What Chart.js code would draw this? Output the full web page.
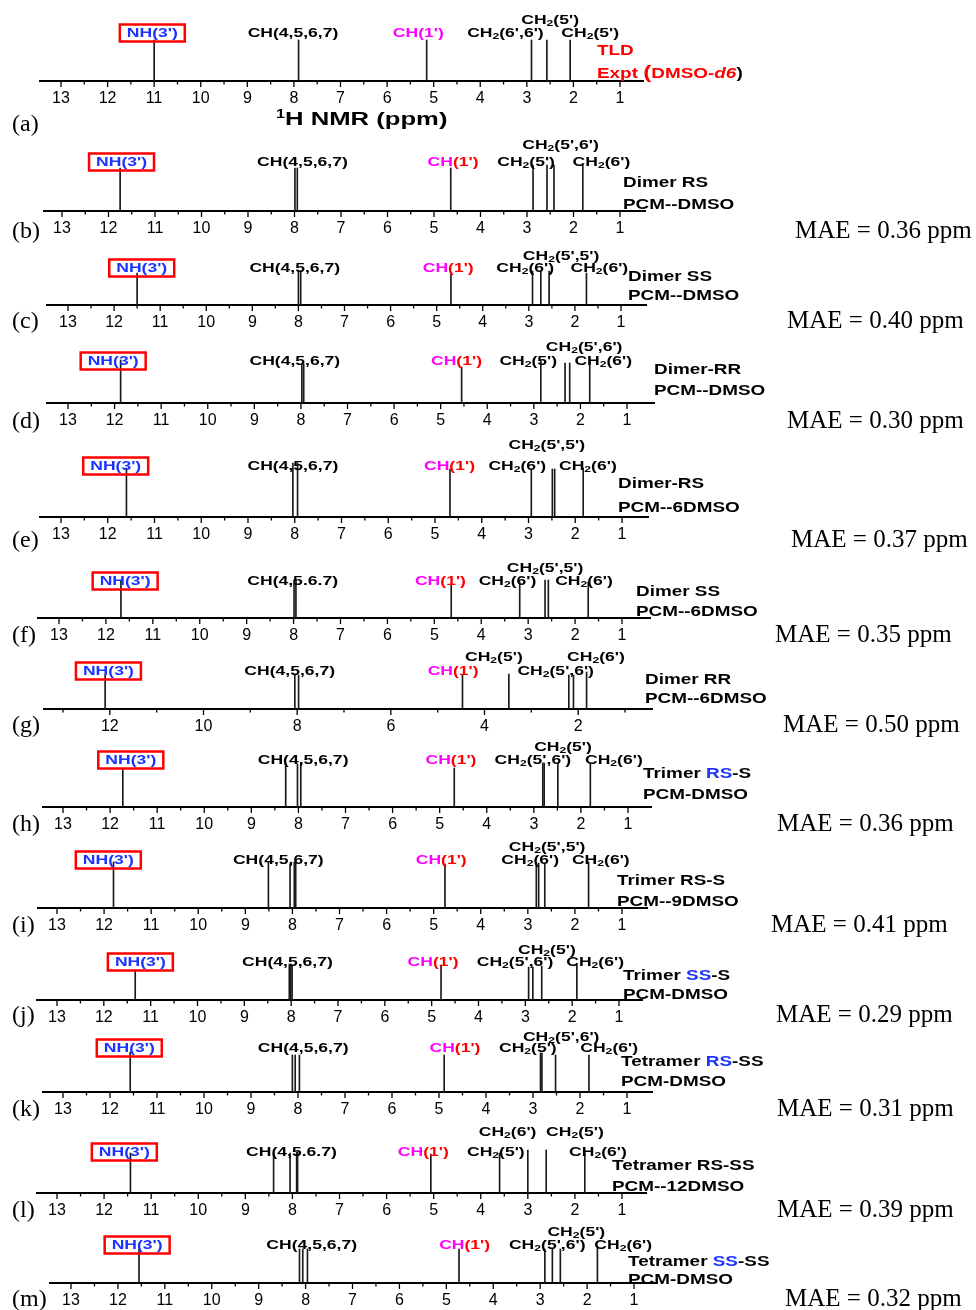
<!DOCTYPE html>
<html lang="en">
<head>
<meta charset="UTF-8">
<title>1H NMR stick spectra</title>
<script src="https://cdn.jsdelivr.net/npm/chart.js"></script>
<style>
  body { margin: 0; background: #fff; }
  #wrap { position: relative; width: 976px; height: 1310px; overflow: hidden; }
  #wrap canvas { position: absolute; left: 0; }
  .txt { position: absolute; white-space: nowrap; z-index: 2; }
  .tag { font: bold 14px 'Liberation Sans', Arial, sans-serif; line-height: 18px; transform: scaleX(1.35); transform-origin: 0 50%; }
  .mae { font: 25px 'Liberation Serif', 'Times New Roman', serif; line-height: 28px; }
  .letter { font: 24px 'Liberation Serif', 'Times New Roman', serif; line-height: 28px; }
  .blue { color: #1a33ff; }
  .red { color: #ff0000; }
</style>
</head>
<body>
<div id="wrap"></div>
<script>
// tick values (ppm)
const ppmLabels = [13, 12, 11, 10, 9, 8, 7, 6, 5, 4, 3, 2, 1];
const ppmLabelsEven = [12, 10, 8, 6, 4, 2];

// chemical shifts (ppm) and relative stick heights for each spectrum
const shiftsA = [11.0, 7.9, 5.15, 2.9, 2.57, 2.07];
const heightsA = [0.82, 0.82, 0.82, 0.82, 0.82, 0.82];
const shiftsB = [11.75, 7.99, 7.94, 4.64, 2.87, 2.57, 2.42, 1.8];
const heightsB = [0.86, 0.86, 0.86, 0.86, 0.92, 0.92, 0.92, 0.92];
const shiftsC = [11.5, 8.0, 7.95, 4.69, 2.92, 2.74, 2.56, 1.75];
const heightsC = [0.64, 0.68, 0.68, 0.64, 0.68, 0.68, 0.68, 0.64];
const shiftsD = [11.87, 7.98, 7.94, 4.55, 2.85, 2.33, 2.23, 1.8];
const heightsD = [0.86, 0.78, 0.78, 0.72, 0.86, 0.8, 0.8, 0.86];
const shiftsE = [11.6, 8.04, 7.94, 4.68, 2.94, 2.49, 2.44, 1.83];
const heightsE = [0.98, 1.08, 1.08, 0.96, 0.96, 0.96, 0.96, 0.98];
const shiftsF = [11.68, 7.99, 7.95, 4.64, 3.18, 2.64, 2.57, 1.72];
const heightsF = [0.76, 0.76, 0.76, 0.68, 0.72, 0.76, 0.76, 0.72];
const shiftsG = [12.1, 8.05, 7.97, 4.47, 3.48, 2.2, 2.1, 1.82];
const heightsG = [0.68, 0.68, 0.68, 0.68, 0.7, 0.68, 0.68, 0.74];
const shiftsH = [11.73, 8.27, 8.02, 7.95, 4.69, 2.81, 2.78, 2.49, 1.8];
const heightsH = [0.76, 0.86, 0.86, 0.86, 0.78, 0.88, 0.88, 0.88, 0.86];
const shiftsI = [11.8, 8.51, 8.05, 7.96, 7.93, 4.76, 2.82, 2.77, 2.64, 1.71];
const heightsI = [0.92, 0.92, 0.88, 0.92, 0.92, 0.88, 0.9, 0.9, 0.9, 0.92];
const shiftsJ = [11.33, 8.04, 8.01, 7.98, 4.8, 2.93, 2.84, 2.65, 1.9];
const heightsJ = [0.6, 0.7, 0.7, 0.7, 0.7, 0.66, 0.66, 0.68, 0.7];
const shiftsK = [11.57, 8.12, 8.06, 7.97, 4.89, 2.84, 2.81, 2.52, 1.81];
const heightsK = [0.8, 0.74, 0.74, 0.74, 0.74, 0.78, 0.78, 0.74, 0.74];
const shiftsL = [11.44, 8.4, 8.05, 7.91, 7.89, 5.06, 3.6, 3.0, 2.61, 1.79];
const heightsL = [0.8, 0.78, 0.8, 0.82, 0.82, 0.78, 0.8, 0.86, 0.86, 0.8];
const shiftsM = [11.55, 8.13, 8.06, 7.96, 4.73, 2.9, 2.74, 2.57, 1.78];
const heightsM = [0.68, 0.68, 0.68, 0.68, 0.68, 0.68, 0.68, 0.68, 0.7];

// MAE values (ppm)
const maeValues = ['', '0.36', '0.40', '0.30', '0.37', '0.35', '0.50', '0.36', '0.41', '0.29', '0.31', '0.39', '0.32'];

const BLUE = '#1a33ff', MAG = '#ff00ff', RED = '#ff0000', BLK = '#000';
const LABFONT = "bold 13px 'Liberation Sans', Arial, sans-serif";
const SUBFONT = "bold 9px 'Liberation Sans', Arial, sans-serif";
const SX = 1.35;

// label helpers
const NH = ppm => ({ ppm, row: 0, box: true, parts: [["NH(3')", BLUE]] });
const CH4 = (ppm, t) => ({ ppm, row: 0, parts: [[t || 'CH(4,5,6,7)', BLK]] });
const CH1 = (ppm, plain) => ({ ppm, row: 0, parts: plain ? [["CH(1')", MAG]] : [['CH', MAG], ["(1')", RED]] });
const CH2 = (ppm, row, tail) => ({ ppm, row, parts: [['CH', BLK], ['2', BLK, true], [tail, BLK]] });

const halfSteps = [];
for (let v = 1; v <= 13; v += 0.5) halfSteps.push(v);
const intSteps = ppmLabels.slice();

const panels = [
  { id: 'a', shifts: shiftsA, heights: heightsA, axisY: 81, left: 40, right: 643, px13: 61, px1: 620, rows: [48, 61], letterY: 123,
    labels: [NH(11.04), CH4(8.02), CH1(5.33, true), CH2(3.46, 0, "(6',6')"), CH2(2.5, 1, "(5')"), CH2(1.64, 0, "(5')")] },
  { id: 'b', shifts: shiftsB, heights: heightsB, axisY: 211, left: 44, right: 645, px13: 62, px1: 620, rows: [49, 66], letterY: 230,
    maeX: 795, tagX: 623, tagY: [182, 204], tag: ['Dimer RS', 'PCM--DMSO'],
    labels: [NH(11.72), CH4(7.83), CH1(4.59), CH2(2.28, 1, "(5',6')"), CH2(3.02, 0, "(5')"), CH2(1.4, 0, "(6')")] },
  { id: 'c', shifts: shiftsC, heights: heightsC, axisY: 305, left: 47, right: 646, px13: 68, px1: 621, rows: [37, 49], letterY: 320,
    maeX: 787, tagX: 628, tagY: [276, 295], tag: ['Dimer SS', 'PCM--DMSO'],
    labels: [NH(11.4), CH4(8.08), CH1(4.75), CH2(2.3, 1, "(5',5')"), CH2(3.08, 0, "(6')"), CH2(1.47, 0, "(6')")] },
  { id: 'd', shifts: shiftsD, heights: heightsD, axisY: 403, left: 47, right: 654, px13: 68, px1: 627, rows: [42, 56], letterY: 420,
    maeX: 787, tagX: 654, tagY: [369, 390], tag: ['Dimer-RR', 'PCM--DMSO'],
    labels: [NH(12.03), CH4(8.13), CH1(4.66), CH2(1.92, 1, "(5',6')"), CH2(3.12, 0, "(5')"), CH2(1.51, 0, "(6')")] },
  { id: 'e', shifts: shiftsE, heights: heightsE, axisY: 517, left: 40, right: 648, px13: 61, px1: 622, rows: [51, 72], letterY: 539,
    maeX: 791, tagX: 618, tagY: [483, 507], tag: ['Dimer-RS', 'PCM--6DMSO'],
    labels: [NH(11.83), CH4(8.04), CH1(4.69), CH2(2.61, 1, "(5',5')"), CH2(3.24, 0, "(6')"), CH2(1.73, 0, "(6')")] },
  { id: 'f', shifts: shiftsF, heights: heightsF, axisY: 618, left: 38, right: 650, px13: 59, px1: 622, rows: [37, 50], letterY: 634,
    maeX: 775, tagX: 636, tagY: [591, 611], tag: ['Dimer SS', 'PCM--6DMSO'],
    labels: [NH(11.59), CH4(8.02, 'CH(4,5.6.7)'), CH1(4.87), CH2(2.64, 1, "(5',5')"), CH2(3.44, 0, "(6')"), CH2(1.81, 0, "(6')")] },
  { id: 'g', shifts: shiftsG, heights: heightsG, axisY: 709, left: 44, right: 652, px13: 63, px1: 625, rows: [38, 52], letterY: 724,
    even: true, maeX: 783, tagX: 645, tagY: [679, 698], tag: ['Dimer RR', 'PCM--6DMSO'],
    labels: [NH(12.03), CH4(8.16), CH1(4.67), CH2(3.8, 1, "(5')"), CH2(1.62, 1, "(6')"), CH2(2.48, 0, "(5',6')")] },
  { id: 'h', shifts: shiftsH, heights: heightsH, axisY: 807, left: 43, right: 651, px13: 63, px1: 628, rows: [47, 60], letterY: 823,
    maeX: 777, tagX: 643, tagY: [773, 794], tag: ['Trimer <span class="blue">RS</span>-S', 'PCM-DMSO'],
    labels: [NH(11.56), CH4(7.9), CH1(4.76), CH2(2.38, 1, "(5')"), CH2(3.02, 0, "(5',6')"), CH2(1.3, 0, "(6')")] },
  { id: 'i', shifts: shiftsI, heights: heightsI, axisY: 908, left: 38, right: 647, px13: 57, px1: 622, rows: [48, 61], letterY: 924,
    maeX: 771, tagX: 617, tagY: [880, 901], tag: ['Trimer RS-S', 'PCM--9DMSO'],
    labels: [NH(11.91), CH4(8.3), CH1(4.84), CH2(2.59, 1, "(5',5')"), CH2(2.95, 0, "(6')"), CH2(1.45, 0, "(6')")] },
  { id: 'j', shifts: shiftsJ, heights: heightsJ, axisY: 1000, left: 37, right: 642, px13: 57, px1: 619, rows: [38, 50], letterY: 1014,
    maeX: 776, tagX: 623, tagY: [975, 994], tag: ['Trimer <span class="blue">SS</span>-S', 'PCM-DMSO'],
    labels: [NH(11.22), CH4(8.08), CH1(4.97), CH2(2.54, 1, "(5')"), CH2(3.22, 0, "(5',6')"), CH2(1.51, 0, "(6')")] },
  { id: 'k', shifts: shiftsK, heights: heightsK, axisY: 1092, left: 43, right: 652, px13: 63, px1: 627, rows: [44, 55], letterY: 1108,
    maeX: 777, tagX: 621, tagY: [1061, 1081], tag: ['Tetramer <span class="blue">RS</span>-SS', 'PCM-DMSO'],
    labels: [NH(11.59), CH4(7.89), CH1(4.66), CH2(2.4, 1, "(5',6')"), CH2(3.11, 0, "(5')"), CH2(1.38, 0, "(6')")] },
  { id: 'l', shifts: shiftsL, heights: heightsL, axisY: 1193, left: 37, right: 646, px13: 57, px1: 622, rows: [41, 61], letterY: 1209,
    maeX: 777, tagX: 612, tagY: [1165, 1186], tag: ['Tetramer RS-SS', 'PCM--12DMSO'],
    labels: [NH(11.57), CH4(8.02, 'CH(4,5.6.7)'), CH1(5.22), CH2(3.43, 1, "(6')"), CH2(2.0, 1, "(5')"), CH2(3.68, 0, "(5')"), CH2(1.51, 0, "(6')")] },
  { id: 'm', shifts: shiftsM, heights: heightsM, axisY: 1283, left: 50, right: 657, px13: 71, px1: 634, rows: [38, 51], letterY: 1298,
    maeX: 785, tagX: 628, tagY: [1261, 1279], tag: ['Tetramer <span class="blue">SS</span>-SS', 'PCM-DMSO'],
    labels: [NH(11.59), CH4(7.87), CH1(4.61), CH2(2.23, 1, "(5')"), CH2(2.85, 0, "(5',6')"), CH2(1.23, 0, "(6')")] }
];

function drawLabel(ctx, cx, cy, l) {
  const segs = l.parts.map(([t, c, sub]) => {
    ctx.font = sub ? SUBFONT : LABFONT;
    return { t, c, sub, w: ctx.measureText(t).width };
  });
  const total = segs.reduce((a, s) => a + s.w, 0) * SX;
  const x0 = cx - total / 2;
  ctx.save();
  ctx.translate(x0, cy);
  ctx.scale(SX, 1);
  ctx.textBaseline = 'middle';
  let lx = 0;
  segs.forEach(s => {
    ctx.font = s.sub ? SUBFONT : LABFONT;
    ctx.fillStyle = s.c;
    ctx.fillText(s.t, lx, s.sub ? 4 : 0);
    lx += s.w;
  });
  ctx.restore();
  if (l.box) {
    ctx.strokeStyle = RED;
    ctx.lineWidth = 2.5;
    ctx.strokeRect(x0 - 7, cy - 8.5, total + 14, 17);
  }
}

const annotPlugin = p => ({
  id: 'annot',
  afterDatasetsDraw(chart) {
    const { ctx } = chart;
    const sx = chart.scales.x;
    const y0 = chart.chartArea.bottom;
    ctx.save();
    // tick marks, major longer than minor
    ctx.strokeStyle = '#000';
    ctx.lineWidth = 1.3;
    p.tickVals.forEach(v => {
      const x = sx.getPixelForValue(v);
      const len = p.labelVals.includes(v) ? 6 : 3.5;
      ctx.beginPath();
      ctx.moveTo(x, y0);
      ctx.lineTo(x, y0 + len);
      ctx.stroke();
    });
    p.labels.forEach(l => drawLabel(ctx, sx.getPixelForValue(l.ppm), y0 - p.rows[l.row], l));
    ctx.restore();
  }
});

const wrap = document.getElementById('wrap');

function addText(cls, x, y, html, lh) {
  const d = document.createElement('div');
  d.className = 'txt ' + cls;
  d.style.left = x + 'px';
  d.style.top = (y - lh / 2) + 'px';
  d.innerHTML = html;
  wrap.appendChild(d);
}

panels.forEach((p, idx) => {
  p.tickVals = p.even ? intSteps : halfSteps;
  p.labelVals = p.even ? ppmLabelsEven : ppmLabels;
  const cv = document.createElement('canvas');
  cv.width = 976;
  cv.height = 120;
  cv.style.top = (p.axisY - 90) + 'px';
  wrap.appendChild(cv);

  const s = (p.px1 - p.px13) / 12;
  const xMax = 13 + (p.px13 - p.left) / s;
  const xMin = 1 - (p.right - p.px1) / s;

  new Chart(cv, {
    type: 'bar',
    data: {
      datasets: [{
        data: p.shifts.map((x, i) => ({ x: x, y: p.heights[i] })),
        backgroundColor: '#1a1a1a',
        barThickness: 1,
        borderWidth: 0
      }]
    },
    options: {
      responsive: false,
      animation: false,
      layout: { padding: { left: p.left, right: 976 - p.right, top: 30, bottom: 0 } },
      plugins: { legend: { display: false }, tooltip: { enabled: false } },
      scales: {
        x: {
          type: 'linear',
          reverse: true,
          offset: false,
          min: xMin,
          max: xMax,
          afterBuildTicks: sc => { sc.ticks = p.tickVals.map(v => ({ value: v })); },
          afterFit: sc => { sc.height = 30; },
          grid: { display: false, drawTicks: true, tickLength: 6, offset: false },
          border: { display: true, color: '#000', width: 2 },
          ticks: {
            autoSkip: false,
            maxRotation: 0,
            padding: 2,
            color: '#000',
            font: { family: "'Liberation Sans', Arial, sans-serif", size: 16 },
            callback: v => p.labelVals.includes(v) ? String(v) : ''
          }
        },
        y: { display: false, min: 0, max: 1.2 }
      }
    },
    plugins: [annotPlugin(p)]
  });

  addText('letter', 12, p.letterY, '(' + p.id + ')', 28);
  if (maeValues[idx]) addText('mae', p.maeX, p.letterY, 'MAE = ' + maeValues[idx] + ' ppm', 28);
  if (p.tag) {
    addText('tag', p.tagX, p.tagY[0], p.tag[0], 18);
    addText('tag', p.tagX, p.tagY[1], p.tag[1], 18);
  }
});

// panel (a) extras
addText('tag red', 597, 50, 'TLD', 18);
addText('tag', 597, 72, '<span class="red">Expt </span><span class="red" style="font-size:18px">(</span><span class="red">DMSO-<i>d6</i></span>)', 18);
addText('tag', 276, 116, '<span style="font-size:19px"><sup style="font-size:12px">1</sup>H NMR (ppm)</span>', 22);
</script>
</body>
</html>
